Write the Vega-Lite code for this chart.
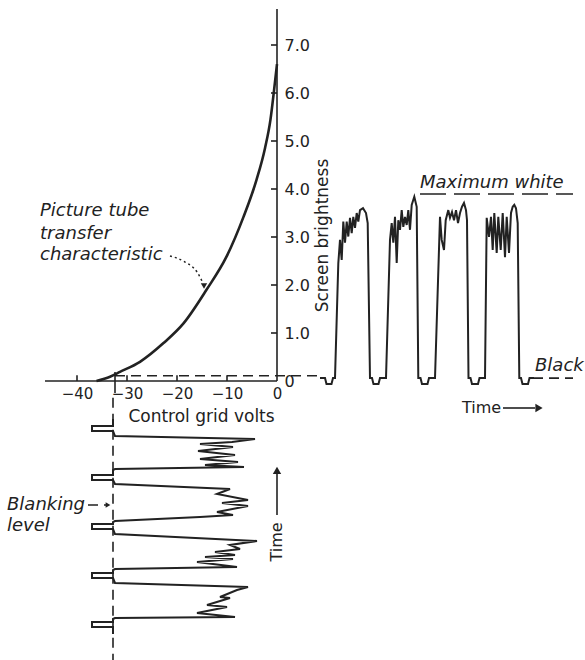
{
  "$schema": "https://vega.github.io/schema/vega-lite/v6.json",
  "width": 585,
  "height": 660,
  "autosize": {"type": "none"},
  "padding": 0,
  "background": "white",
  "config": {
    "view": {"stroke": null},
    "axis": {"labelFont": "DejaVu Sans", "titleFont": "DejaVu Sans", "labelColor": "#222", "titleColor": "#222", "grid": false, "domain": false, "ticks": false}
  },
  "datasets": {
    "curve": [
      {"v": -36.1, "y": 0.0}, {"v": -33.4, "y": 0.09}, {"v": -31.4, "y": 0.19}, {"v": -27.4, "y": 0.4},
      {"v": -22.7, "y": 0.79}, {"v": -18.7, "y": 1.2}, {"v": -14.1, "y": 1.9}, {"v": -10.1, "y": 2.59},
      {"v": -6.7, "y": 3.42}, {"v": -4.1, "y": 4.19}, {"v": -2.4, "y": 4.85}, {"v": -1.3, "y": 5.45},
      {"v": -0.6, "y": 6.05}, {"v": 0, "y": 6.6}
    ],
    "brightness": [
      {"seq": 1, "v": 8.6, "y": 0.06}, {"seq": 2, "v": 9.6, "y": 0.06}, {"seq": 3, "v": 9.9, "y": -0.06}, {"seq": 4, "v": 10.9, "y": -0.06},
      {"seq": 5, "v": 11.2, "y": 0.06}, {"seq": 6, "v": 11.6, "y": 0.06}, {"seq": 7, "v": 12.26, "y": 2.45}, {"seq": 8, "v": 12.6, "y": 2.94},
      {"seq": 9, "v": 12.94, "y": 2.52}, {"seq": 10, "v": 13.26, "y": 3.32}, {"seq": 11, "v": 13.6, "y": 2.88}, {"seq": 12, "v": 13.94, "y": 3.32},
      {"seq": 13, "v": 14.26, "y": 3.01}, {"seq": 14, "v": 14.6, "y": 3.4}, {"seq": 15, "v": 14.94, "y": 3.08}, {"seq": 16, "v": 15.26, "y": 3.42},
      {"seq": 17, "v": 15.6, "y": 3.19}, {"seq": 18, "v": 15.94, "y": 3.5}, {"seq": 19, "v": 16.26, "y": 3.32}, {"seq": 20, "v": 16.6, "y": 3.56},
      {"seq": 21, "v": 17.2, "y": 3.6}, {"seq": 22, "v": 17.8, "y": 3.5}, {"seq": 23, "v": 18.14, "y": 3.29}, {"seq": 24, "v": 18.6, "y": 0.06},
      {"seq": 25, "v": 19.0, "y": 0.06}, {"seq": 26, "v": 19.3, "y": -0.06}, {"seq": 27, "v": 20.3, "y": -0.06}, {"seq": 28, "v": 20.6, "y": 0.06},
      {"seq": 29, "v": 21.8, "y": 0.06}, {"seq": 30, "v": 22.6, "y": 2.94}, {"seq": 31, "v": 22.94, "y": 3.29}, {"seq": 32, "v": 23.26, "y": 2.88},
      {"seq": 33, "v": 23.6, "y": 3.42}, {"seq": 34, "v": 23.94, "y": 2.46}, {"seq": 35, "v": 24.26, "y": 3.35}, {"seq": 36, "v": 24.6, "y": 3.15},
      {"seq": 37, "v": 24.94, "y": 3.56}, {"seq": 38, "v": 25.26, "y": 3.21}, {"seq": 39, "v": 25.6, "y": 3.42}, {"seq": 40, "v": 25.94, "y": 3.25},
      {"seq": 41, "v": 26.26, "y": 3.56}, {"seq": 42, "v": 26.6, "y": 3.15}, {"seq": 43, "v": 26.94, "y": 3.67}, {"seq": 44, "v": 27.46, "y": 3.84},
      {"seq": 45, "v": 27.94, "y": 3.63}, {"seq": 46, "v": 28.26, "y": 0.06}, {"seq": 47, "v": 28.7, "y": 0.06}, {"seq": 48, "v": 29.0, "y": -0.06},
      {"seq": 49, "v": 30.1, "y": -0.06}, {"seq": 50, "v": 30.4, "y": 0.06}, {"seq": 51, "v": 31.6, "y": 0.06}, {"seq": 52, "v": 32.6, "y": 3.42},
      {"seq": 53, "v": 32.94, "y": 2.94}, {"seq": 54, "v": 33.4, "y": 2.73}, {"seq": 55, "v": 33.74, "y": 3.35}, {"seq": 56, "v": 34.26, "y": 3.56},
      {"seq": 57, "v": 34.6, "y": 3.4}, {"seq": 58, "v": 35.0, "y": 3.52}, {"seq": 59, "v": 35.4, "y": 3.35}, {"seq": 60, "v": 35.8, "y": 3.56},
      {"seq": 61, "v": 36.2, "y": 3.29}, {"seq": 62, "v": 36.6, "y": 3.5}, {"seq": 63, "v": 37.0, "y": 3.63}, {"seq": 64, "v": 37.4, "y": 3.71},
      {"seq": 65, "v": 37.8, "y": 3.56}, {"seq": 66, "v": 38.0, "y": 3.35}, {"seq": 67, "v": 38.3, "y": 0.06}, {"seq": 68, "v": 38.7, "y": 0.06},
      {"seq": 69, "v": 39.0, "y": -0.06}, {"seq": 70, "v": 40.2, "y": -0.06}, {"seq": 71, "v": 40.5, "y": 0.06}, {"seq": 72, "v": 41.6, "y": 0.06},
      {"seq": 73, "v": 41.94, "y": 3.4}, {"seq": 74, "v": 42.4, "y": 3.0}, {"seq": 75, "v": 42.8, "y": 3.42}, {"seq": 76, "v": 43.14, "y": 2.73},
      {"seq": 77, "v": 43.46, "y": 3.5}, {"seq": 78, "v": 43.94, "y": 2.67}, {"seq": 79, "v": 44.26, "y": 3.42}, {"seq": 80, "v": 44.74, "y": 2.73},
      {"seq": 81, "v": 45.14, "y": 3.5}, {"seq": 82, "v": 45.6, "y": 2.58}, {"seq": 83, "v": 45.94, "y": 3.42}, {"seq": 84, "v": 46.4, "y": 2.67},
      {"seq": 85, "v": 46.8, "y": 3.5}, {"seq": 86, "v": 47.14, "y": 3.63}, {"seq": 87, "v": 47.46, "y": 3.67}, {"seq": 88, "v": 47.8, "y": 3.6},
      {"seq": 89, "v": 48.14, "y": 3.29}, {"seq": 90, "v": 48.46, "y": 0.06}, {"seq": 91, "v": 48.8, "y": 0.06}, {"seq": 92, "v": 49.1, "y": -0.06},
      {"seq": 93, "v": 50.2, "y": -0.06}, {"seq": 94, "v": 50.5, "y": 0.06}, {"seq": 95, "v": 51.4, "y": 0.06}
    ],
    "grid": [
      {"seq": 1, "v": -32.8, "y": -0.792}, {"seq": 2, "v": -32.8, "y": -0.9375}, {"seq": 3, "v": -37.0, "y": -0.9375}, {"seq": 4, "v": -37.0, "y": -1.042},
      {"seq": 5, "v": -32.8, "y": -1.042}, {"seq": 6, "v": -32.4, "y": -1.146}, {"seq": 7, "v": -4.4, "y": -1.208}, {"seq": 8, "v": -9.0, "y": -1.271},
      {"seq": 9, "v": -15.4, "y": -1.3125}, {"seq": 10, "v": -8.8, "y": -1.375}, {"seq": 11, "v": -15.8, "y": -1.458}, {"seq": 12, "v": -8.4, "y": -1.542},
      {"seq": 13, "v": -15.4, "y": -1.625}, {"seq": 14, "v": -7.8, "y": -1.6875}, {"seq": 15, "v": -14.4, "y": -1.75}, {"seq": 16, "v": -6.6, "y": -1.792},
      {"seq": 17, "v": -32.4, "y": -1.833}, {"seq": 18, "v": -32.8, "y": -1.854}, {"seq": 19, "v": -32.8, "y": -1.958}, {"seq": 20, "v": -37.0, "y": -1.958},
      {"seq": 21, "v": -37.0, "y": -2.0625}, {"seq": 22, "v": -32.8, "y": -2.0625}, {"seq": 23, "v": -32.4, "y": -2.146}, {"seq": 24, "v": -9.4, "y": -2.25},
      {"seq": 25, "v": -12.0, "y": -2.354}, {"seq": 26, "v": -5.8, "y": -2.479}, {"seq": 27, "v": -11.0, "y": -2.542}, {"seq": 28, "v": -5.8, "y": -2.604},
      {"seq": 29, "v": -12.0, "y": -2.729}, {"seq": 30, "v": -8.8, "y": -2.792}, {"seq": 31, "v": -15.4, "y": -2.833}, {"seq": 32, "v": -32.4, "y": -2.917},
      {"seq": 33, "v": -32.8, "y": -2.9375}, {"seq": 34, "v": -32.8, "y": -2.979}, {"seq": 35, "v": -37.0, "y": -2.979}, {"seq": 36, "v": -37.0, "y": -3.083},
      {"seq": 37, "v": -32.8, "y": -3.083}, {"seq": 38, "v": -32.4, "y": -3.1875}, {"seq": 39, "v": -4.0, "y": -3.333}, {"seq": 40, "v": -9.4, "y": -3.417},
      {"seq": 41, "v": -7.4, "y": -3.5}, {"seq": 42, "v": -12.4, "y": -3.5625}, {"seq": 43, "v": -8.4, "y": -3.625}, {"seq": 44, "v": -14.4, "y": -3.667},
      {"seq": 45, "v": -8.8, "y": -3.708}, {"seq": 46, "v": -16.0, "y": -3.771}, {"seq": 47, "v": -8.0, "y": -3.875}, {"seq": 48, "v": -32.4, "y": -3.917},
      {"seq": 49, "v": -32.8, "y": -3.9375}, {"seq": 50, "v": -32.8, "y": -4.0}, {"seq": 51, "v": -37.0, "y": -4.0}, {"seq": 52, "v": -37.0, "y": -4.104},
      {"seq": 53, "v": -32.8, "y": -4.104}, {"seq": 54, "v": -32.4, "y": -4.208}, {"seq": 55, "v": -5.8, "y": -4.292}, {"seq": 56, "v": -8.0, "y": -4.354},
      {"seq": 57, "v": -11.4, "y": -4.5}, {"seq": 58, "v": -9.4, "y": -4.521}, {"seq": 59, "v": -14.0, "y": -4.667}, {"seq": 60, "v": -10.0, "y": -4.708},
      {"seq": 61, "v": -16.0, "y": -4.833}, {"seq": 62, "v": -8.4, "y": -4.917}, {"seq": 63, "v": -32.4, "y": -4.9375}, {"seq": 64, "v": -32.8, "y": -4.958},
      {"seq": 65, "v": -32.8, "y": -5.021}, {"seq": 66, "v": -37.0, "y": -5.021}, {"seq": 67, "v": -37.0, "y": -5.125}, {"seq": 68, "v": -32.8, "y": -5.125},
      {"seq": 69, "v": -32.8, "y": -5.271}
    ],
    "solidRules": [
      {"v": -46.4, "y": 0, "v2": 0, "y2": 0},
      {"v": 0, "y": 0, "v2": 0, "y2": 7.75},
      {"v": -1.2, "y": 1, "v2": 0, "y2": 1}, {"v": -1.2, "y": 2, "v2": 0, "y2": 2}, {"v": -1.2, "y": 3, "v2": 0, "y2": 3},
      {"v": -1.2, "y": 4, "v2": 0, "y2": 4}, {"v": -1.2, "y": 5, "v2": 0, "y2": 5}, {"v": -1.2, "y": 6, "v2": 0, "y2": 6},
      {"v": -1.2, "y": 7, "v2": 0, "y2": 7},
      {"v": -40, "y": 0, "v2": -40, "y2": 0.12}, {"v": -30, "y": 0, "v2": -30, "y2": 0.12},
      {"v": -20, "y": 0, "v2": -20, "y2": 0.12}, {"v": -10, "y": 0, "v2": -10, "y2": 0.12},
      {"v": -32.4, "y": 0.19, "v2": -32.4, "y2": -0.25},
      {"v": 45.2, "y": -0.5625, "v2": 51.6, "y2": -0.5625},
      {"v": 0, "y": -2.79, "v2": 0, "y2": -1.92}
    ],
    "dashedRules": [
      {"v": -32.4, "y": 0.11, "v2": 8.2, "y2": 0.11},
      {"v": -32.8, "y": -0.35, "v2": -32.8, "y2": -5.81},
      {"v": 51.2, "y": 0.06, "v2": 59.2, "y2": 0.06},
      {"v": -37.8, "y": -2.583, "v2": -34.2, "y2": -2.583}
    ],
    "whiteLine": [
      {"v": 28.6, "y": 3.896, "v2": 59.2, "y2": 3.896}
    ],
    "pointer": [
      {"seq": 1, "v": -21.4, "y": 2.604}, {"seq": 2, "v": -18.4, "y": 2.479},
      {"seq": 3, "v": -16.0, "y": 2.271}, {"seq": 4, "v": -14.8, "y": 2.04}
    ],
    "headRight": [{"v": 52.4, "y": -0.5625}],
    "headUp": [{"v": 0, "y": -1.86}],
    "headDown": [{"v": -14.6, "y": 1.98}],
    "headSmall": [{"v": -33.8, "y": -2.583}],
    "italicNotes": [
      {"v": -47.4, "y": 3.542, "label": "Picture tube"},
      {"v": -47.4, "y": 3.0625, "label": "transfer"},
      {"v": -47.4, "y": 2.625, "label": "characteristic"},
      {"v": 28.6, "y": 4.125, "label": "Maximum white"},
      {"v": 51.6, "y": 0.3125, "label": "Black"},
      {"v": -54.0, "y": -2.583, "label": "Blanking"},
      {"v": -54.0, "y": -3.02, "label": "level"}
    ],
    "timeH": [{"v": 37.0, "y": -0.5625, "label": "Time"}],
    "timeV": [{"v": 0, "y": -3.354, "label": "Time"}]
  },
  "encoding": {
    "x": {
      "field": "v", "type": "quantitative",
      "scale": {"domain": [-55.4, 61.6], "nice": false, "zero": false},
      "axis": {
        "orient": "bottom", "offset": -279, "values": [-40, -30, -20, -10, 0], "format": "d",
        "labelPadding": 5, "labelDx": -5, "labelFontSize": 15, "labelBaseline": "top",
        "title": "Control grid volts", "titleX": 201, "titleY": 35, "titleAlign": "center", "titleBaseline": "middle",
        "titleFontSize": 17, "titleFontWeight": "normal"
      }
    },
    "y": {
      "field": "y", "type": "quantitative",
      "scale": {"domain": [-5.8125, 7.9375], "nice": false, "zero": false},
      "axis": {
        "orient": "right", "offset": -308, "values": [0, 1, 2, 3, 4, 5, 6, 7],
        "labelPadding": 7, "labelAlign": "left", "labelBaseline": "middle", "labelFontSize": 16,
        "labelExpr": "datum.value == 0 ? '0' : format(datum.value, '.1f')",
        "title": "Screen brightness", "titleAngle": 270, "titleX": 45, "titleY": 235,
        "titleAlign": "center", "titleBaseline": "middle", "titleFontSize": 17, "titleFontWeight": "normal"
      }
    }
  },
  "layer": [
    {"data": {"name": "solidRules"}, "mark": {"type": "rule", "color": "#222", "strokeWidth": 1.6},
     "encoding": {"x2": {"field": "v2"}, "y2": {"field": "y2"}}},
    {"data": {"name": "dashedRules"}, "mark": {"type": "rule", "color": "#222", "strokeWidth": 1.6, "strokeDash": [10, 6]},
     "encoding": {"x2": {"field": "v2"}, "y2": {"field": "y2"}}},
    {"data": {"name": "whiteLine"}, "mark": {"type": "rule", "color": "#222", "strokeWidth": 1.6, "strokeDash": [26, 8]},
     "encoding": {"x2": {"field": "v2"}, "y2": {"field": "y2"}}},
    {"data": {"name": "curve"}, "mark": {"type": "line", "color": "#222", "strokeWidth": 2.6, "interpolate": "monotone"}, "encoding": {}},
    {"data": {"name": "brightness"}, "mark": {"type": "line", "color": "#222", "strokeWidth": 2}, "encoding": {"order": {"field": "seq", "type": "quantitative"}}},
    {"data": {"name": "grid"}, "mark": {"type": "line", "color": "#222", "strokeWidth": 2}, "encoding": {"order": {"field": "seq", "type": "quantitative"}}},
    {"data": {"name": "pointer"}, "mark": {"type": "line", "color": "#222", "strokeWidth": 1.5, "strokeDash": [2, 3], "interpolate": "monotone"}, "encoding": {"order": {"field": "seq", "type": "quantitative"}}},
    {"data": {"name": "headRight"}, "mark": {"type": "point", "shape": "triangle-right", "filled": true, "color": "#222", "size": 70, "opacity": 1}},
    {"data": {"name": "headUp"}, "mark": {"type": "point", "shape": "triangle-up", "filled": true, "color": "#222", "size": 70, "opacity": 1}},
    {"data": {"name": "headDown"}, "mark": {"type": "point", "shape": "triangle-down", "filled": true, "color": "#222", "size": 40, "opacity": 1}},
    {"data": {"name": "headSmall"}, "mark": {"type": "point", "shape": "triangle-right", "filled": true, "color": "#222", "size": 30, "opacity": 1}},
    {"data": {"name": "italicNotes"}, "mark": {"type": "text", "font": "DejaVu Sans", "fontStyle": "italic", "fontSize": 18, "align": "left", "baseline": "middle", "color": "#222"},
     "encoding": {"text": {"field": "label"}}},
    {"data": {"name": "timeH"}, "mark": {"type": "text", "font": "DejaVu Sans", "fontSize": 16, "align": "left", "baseline": "middle", "color": "#222"},
     "encoding": {"text": {"field": "label"}}},
    {"data": {"name": "timeV"}, "mark": {"type": "text", "font": "DejaVu Sans", "fontSize": 16, "align": "center", "baseline": "middle", "angle": 270, "color": "#222"},
     "encoding": {"text": {"field": "label"}}}
  ]
}
